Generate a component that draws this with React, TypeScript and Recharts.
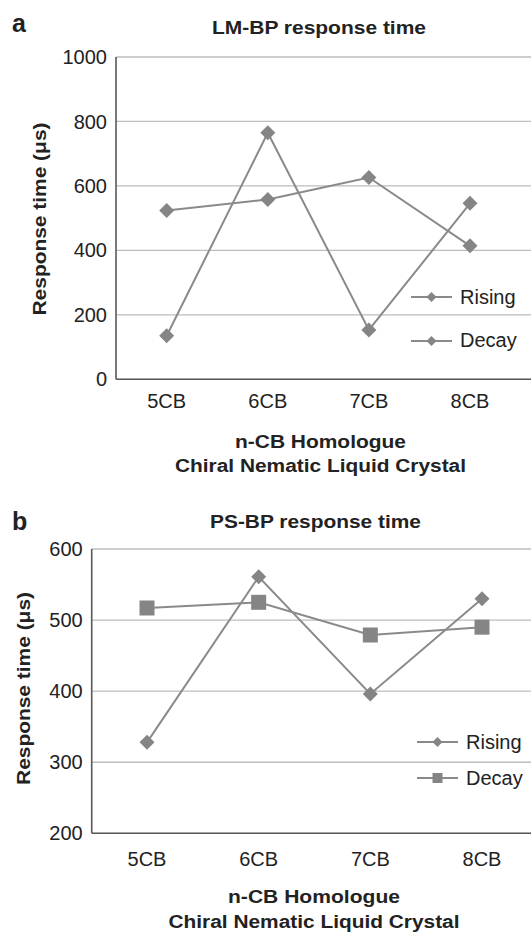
import React from 'react';
import { LineChart, Line, XAxis, YAxis, CartesianGrid, Legend } from 'recharts';

// n-CB homologues on the x axis
const homologues = ['5CB', '6CB', '7CB', '8CB'];

// panel a: LM-BP response time (µs)
const lmRising = [135, 765, 153, 546];
const lmDecay = [524, 558, 626, 414];
const lmTicks = [0, 200, 400, 600, 800, 1000];

// panel b: PS-BP response time (µs)
const psRising = [328, 561, 396, 530];
const psDecay = [517, 525, 479, 490];
const psTicks = [200, 300, 400, 500, 600];

const seriesOrder = ['Rising', 'Decay'];

const lmData = homologues.map((name, i) => ({ name, rising: lmRising[i], decay: lmDecay[i] }));
const psData = homologues.map((name, i) => ({ name, rising: psRising[i], decay: psDecay[i] }));

const FONT = '"Liberation Sans", Arial, Helvetica, sans-serif';
const LINE = '#8a8a8a';
const MARK = '#858585';
const AXIS = '#595959';
const GRID = '#bdbdbd';
const INK = '#222';

const Diamond = ({ cx, cy, r = 7.5 }: any) => (
    <path d={`M${cx},${cy - r}L${cx + r},${cy}L${cx},${cy + r}L${cx - r},${cy}Z`} fill={MARK} />
);

const Square = ({ cx, cy, r = 7.5 }: any) => (
    <rect x={cx - r} y={cy - r} width={r * 2} height={r * 2} fill={MARK} />
);

const dotOf = (shape: string, id: string) => (p: any) =>
    shape === 'square'
        ? <Square key={`${id}-${p.index}`} cx={p.cx} cy={p.cy} />
        : <Diamond key={`${id}-${p.index}`} cx={p.cx} cy={p.cy} />;

// legend keeps the series order (Recharts would sort it by name)
const legendOf = (shapes: Record<string, string>, rowHeight: number) => (props: any) => {
    const items = [...(props.payload || [])].sort(
        (a: any, b: any) => seriesOrder.indexOf(a.value) - seriesOrder.indexOf(b.value));
    return (
        <div>
            {items.map((entry: any) => (
                <div key={entry.value} style={{ display: 'flex', alignItems: 'center', height: rowHeight }}>
                    <svg width={41} height={14}>
                        <line x1={0} y1={7} x2={41} y2={7} stroke={LINE} strokeWidth={2} />
                        {shapes[entry.value] === 'square'
                            ? <Square cx={20.5} cy={7} r={5} />
                            : <Diamond cx={20.5} cy={7} r={5} />}
                    </svg>
                    <span style={{ marginLeft: 8, fontSize: 20, fontFamily: FONT, color: INK }}>{entry.value}</span>
                </div>
            ))}
        </div>
    );
};

const boldText = { fontFamily: FONT, fontWeight: 700, fill: INK } as const;

function Panel({ letter, title, data, ticks, top, height, plotTop, plotBottom, plotLeft, padL, padR, tickGap, legendTop, legendLeft, rowHeight, decayShape, labels }: any) {
    const shapes: Record<string, string> = { Rising: 'diamond', Decay: decayShape };
    return (
        <div style={{ position: 'absolute', left: 0, top, width: 531, height }}>
            <LineChart width={531} height={height} data={data}
                margin={{ top: plotTop, right: 0, left: 0, bottom: height - plotBottom - 30 }}>
                <CartesianGrid horizontal vertical={false} stroke={GRID} strokeWidth={1.3} />
                <XAxis dataKey="name" height={30} padding={{ left: padL, right: padR }}
                    axisLine={{ stroke: AXIS, strokeWidth: 1.6 }} tickLine={false} tickMargin={tickGap}
                    tick={{ fontSize: 20, fontFamily: FONT, fill: INK }} />
                <YAxis width={plotLeft} domain={[ticks[0], ticks[ticks.length - 1]]} ticks={ticks}
                    axisLine={{ stroke: AXIS, strokeWidth: 1.6 }} tickLine={false} tickMargin={3}
                    tick={{ fontSize: 20, fontFamily: FONT, fill: INK }} />
                <Legend layout="vertical" align="center" verticalAlign="middle"
                    wrapperStyle={{ left: legendLeft, top: legendTop, width: 130 }}
                    content={legendOf(shapes, rowHeight)} />
                <Line name="Rising" dataKey="rising" type="linear" stroke={LINE} strokeWidth={2}
                    dot={dotOf('diamond', letter + 'r')} activeDot={false} isAnimationActive={false} />
                <Line name="Decay" dataKey="decay" type="linear" stroke={LINE} strokeWidth={2}
                    dot={dotOf(decayShape, letter + 'd')} activeDot={false} isAnimationActive={false} />
                <text x={12} y={labels.letterY} fontSize={25} {...boldText}>{letter}</text>
                <text x={labels.titleX} y={labels.titleY} fontSize={18} textAnchor="middle"
                    textLength={labels.titleW} lengthAdjust="spacingAndGlyphs" {...boldText}>{title}</text>
                <text x={labels.yLabX} y={labels.yLabY} fontSize={18} textAnchor="middle" dominantBaseline="central"
                    transform={`rotate(-90, ${labels.yLabX}, ${labels.yLabY})`}
                    textLength={193} lengthAdjust="spacingAndGlyphs" {...boldText}>Response time (μs)</text>
                <text x={labels.xLabX} y={labels.xLab1Y} fontSize={18} textAnchor="middle"
                    textLength={labels.xLab1W} lengthAdjust="spacingAndGlyphs" {...boldText}>n-CB Homologue</text>
                <text x={labels.xLabX} y={labels.xLab2Y} fontSize={18} textAnchor="middle"
                    textLength={291} lengthAdjust="spacingAndGlyphs" {...boldText}>Chiral Nematic Liquid Crystal</text>
            </LineChart>
        </div>
    );
}

export default function App() {
    return (
        <div style={{ position: 'absolute', left: 0, top: 0, width: 531, height: 932, background: '#fff', overflow: 'hidden' }}>
            <Panel letter="a" title="LM-BP response time" data={lmData} ticks={lmTicks}
                top={0} height={480} plotTop={57} plotBottom={379.3} plotLeft={116} padL={50.7} padR={61}
                tickGap={8} legendTop={275.6} legendLeft={411} rowHeight={43.4} decayShape="diamond"
                labels={{ letterY: 31.7, titleX: 319, titleY: 34.3, titleW: 214, yLabX: 40, yLabY: 219,
                    xLabX: 320.5, xLab1Y: 448.3, xLab1W: 171, xLab2Y: 471.5 }} />
            <Panel letter="b" title="PS-BP response time" data={psData} ticks={psTicks}
                top={470} height={462} plotTop={79} plotBottom={363.3} plotLeft={91.7} padL={55.3} padR={49}
                tickGap={12} legendTop={254} legendLeft={417} rowHeight={36} decayShape="square"
                labels={{ letterY: 60, titleX: 315.5, titleY: 58.3, titleW: 211, yLabX: 23.5, yLabY: 218.5,
                    xLabX: 314, xLab1Y: 433, xLab1W: 172, xLab2Y: 458 }} />
        </div>
    );
}
